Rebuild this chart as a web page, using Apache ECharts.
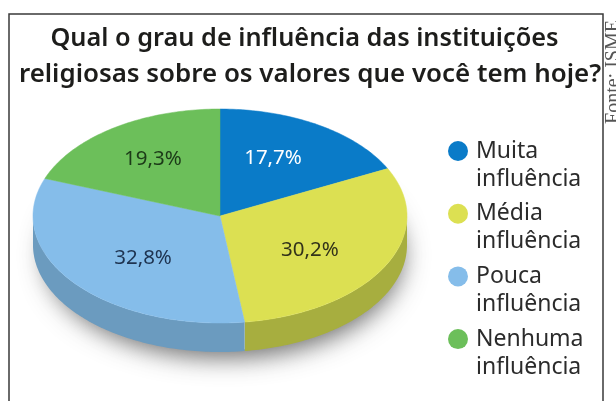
<!DOCTYPE html>
<html>
<head>
<meta charset="utf-8">
<style>html,body{margin:0;padding:0;background:#fff}#chart{width:616px;height:401px}</style>
<script src="https://cdn.jsdelivr.net/npm/echarts@6/dist/echarts.min.js"></script>
</head>
<body>
<div id="chart"></div>
<script>
var categories = ['Muita\ninfluência', 'Média\ninfluência', 'Pouca\ninfluência', 'Nenhuma\ninfluência'];
var values = [17.7, 30.2, 32.8, 19.3];
var valueLabels = ['17,7%', '30,2%', '32,8%', '19,3%'];

var topColors = ['#0a7bc8', '#dce052', '#85bdea', '#6cbf5a'];
var sideColors = ['#0a5f99', '#a7ae3f', '#6b9bbf', '#55974a'];
var labelColors = ['#ffffff', '#33331a', '#1e3350', '#1c3a18'];
var labelFx = [0.537, 0.545, 0.526, 0.63];
var labelFy = [0.65, 0.64, 0.616, 0.66];

var cx = 220, cy = 216, rx = 187, ry = 107, depth = 29;
var total = values.reduce(function (a, b) { return a + b; }, 0);

// angles are clockwise from 12 o'clock, in degrees
function pt(deg, dy) {
    var r = deg * Math.PI / 180;
    return [cx + rx * Math.sin(r), cy - ry * Math.cos(r) + (dy || 0)];
}
function arc(a0, a1, dy) {
    var pts = [];
    for (var a = a0; a < a1; a += 1) pts.push(pt(a, dy));
    pts.push(pt(a1, dy));
    return pts;
}

function renderSlice(params, api) {
    var i = params.dataIndex;
    var start = 0;
    for (var k = 0; k < i; k++) start += values[k];
    var a0 = start / total * 360;
    var a1 = a0 + api.value(0) / total * 360;
    var mid = (a0 + a1) / 2 * Math.PI / 180;
    var kids = [];

    // side wall, only the front half of the disc shows
    var s0 = Math.max(a0, 90), s1 = Math.min(a1, 270);
    if (s1 > s0) {
        kids.push({
            type: 'polygon',
            shape: {points: arc(s0, s1, 0).concat(arc(s0, s1, depth).reverse())},
            style: {fill: sideColors[i]}
        });
    }
    kids.push({
        type: 'polygon',
        shape: {points: [[cx, cy]].concat(arc(a0, a1, 0))},
        style: {fill: topColors[i], stroke: topColors[i], lineWidth: 0.5}
    });
    kids.push({
        type: 'text',
        z2: 10,
        style: {
            x: cx + rx * labelFx[i] * Math.sin(mid),
            y: cy - ry * labelFy[i] * Math.cos(mid) + 1.5,
            text: valueLabels[i],
            fill: labelColors[i],
            font: '20.5px "Noto Sans"',
            align: 'center',
            verticalAlign: 'middle'
        }
    });
    return {type: 'group', children: kids};
}

var gfx = [
    {type: 'rect', shape: {x: 9, y: 14, width: 594, height: 400}, style: {fill: 'none', stroke: '#3a3a3a', lineWidth: 1.5}},
    {type: 'text', style: {x: 304.5, y: 39, text: 'Qual o grau de influência das instituições', font: '600 25.3px "Noto Sans"', fill: '#1d1d1b', align: 'center', verticalAlign: 'middle'}},
    {type: 'text', style: {x: 310, y: 75, text: 'religiosas sobre os valores que você tem hoje?', font: '600 25.9px "Noto Sans"', fill: '#1d1d1b', align: 'center', verticalAlign: 'middle'}},
    {type: 'text', rotation: Math.PI / 2, x: 614, y: 72, style: {text: 'Fonte: ISME', font: '20px "Liberation Serif"', fill: '#555', align: 'center', verticalAlign: 'middle'}},
    // soft shadow under the disc
    {type: 'ellipse', z: -1, shape: {cx: cx + 4, cy: cy + depth + 2, rx: rx - 8, ry: ry - 4}, style: {fill: '#fff', shadowBlur: 24, shadowColor: 'rgba(50,50,50,0.7)', shadowOffsetY: 8}}
];

categories.forEach(function (name, i) {
    var y = 151 + i * 62.7;
    gfx.push({type: 'circle', shape: {cx: 458, cy: y, r: 10}, style: {fill: topColors[i]}});
    gfx.push({type: 'text', style: {x: 476, y: y - 14, text: name, font: '23px "Noto Sans"', lineHeight: 28, fill: '#2b2b2b', align: 'left', verticalAlign: 'top'}});
});

var chart = echarts.init(document.getElementById('chart'));
chart.setOption({
    animation: false,
    graphic: gfx,
    series: [{
        type: 'custom',
        coordinateSystem: 'none',
        renderItem: renderSlice,
        data: values.map(function (v) { return [v]; })
    }]
});
</script>
</body>
</html>
